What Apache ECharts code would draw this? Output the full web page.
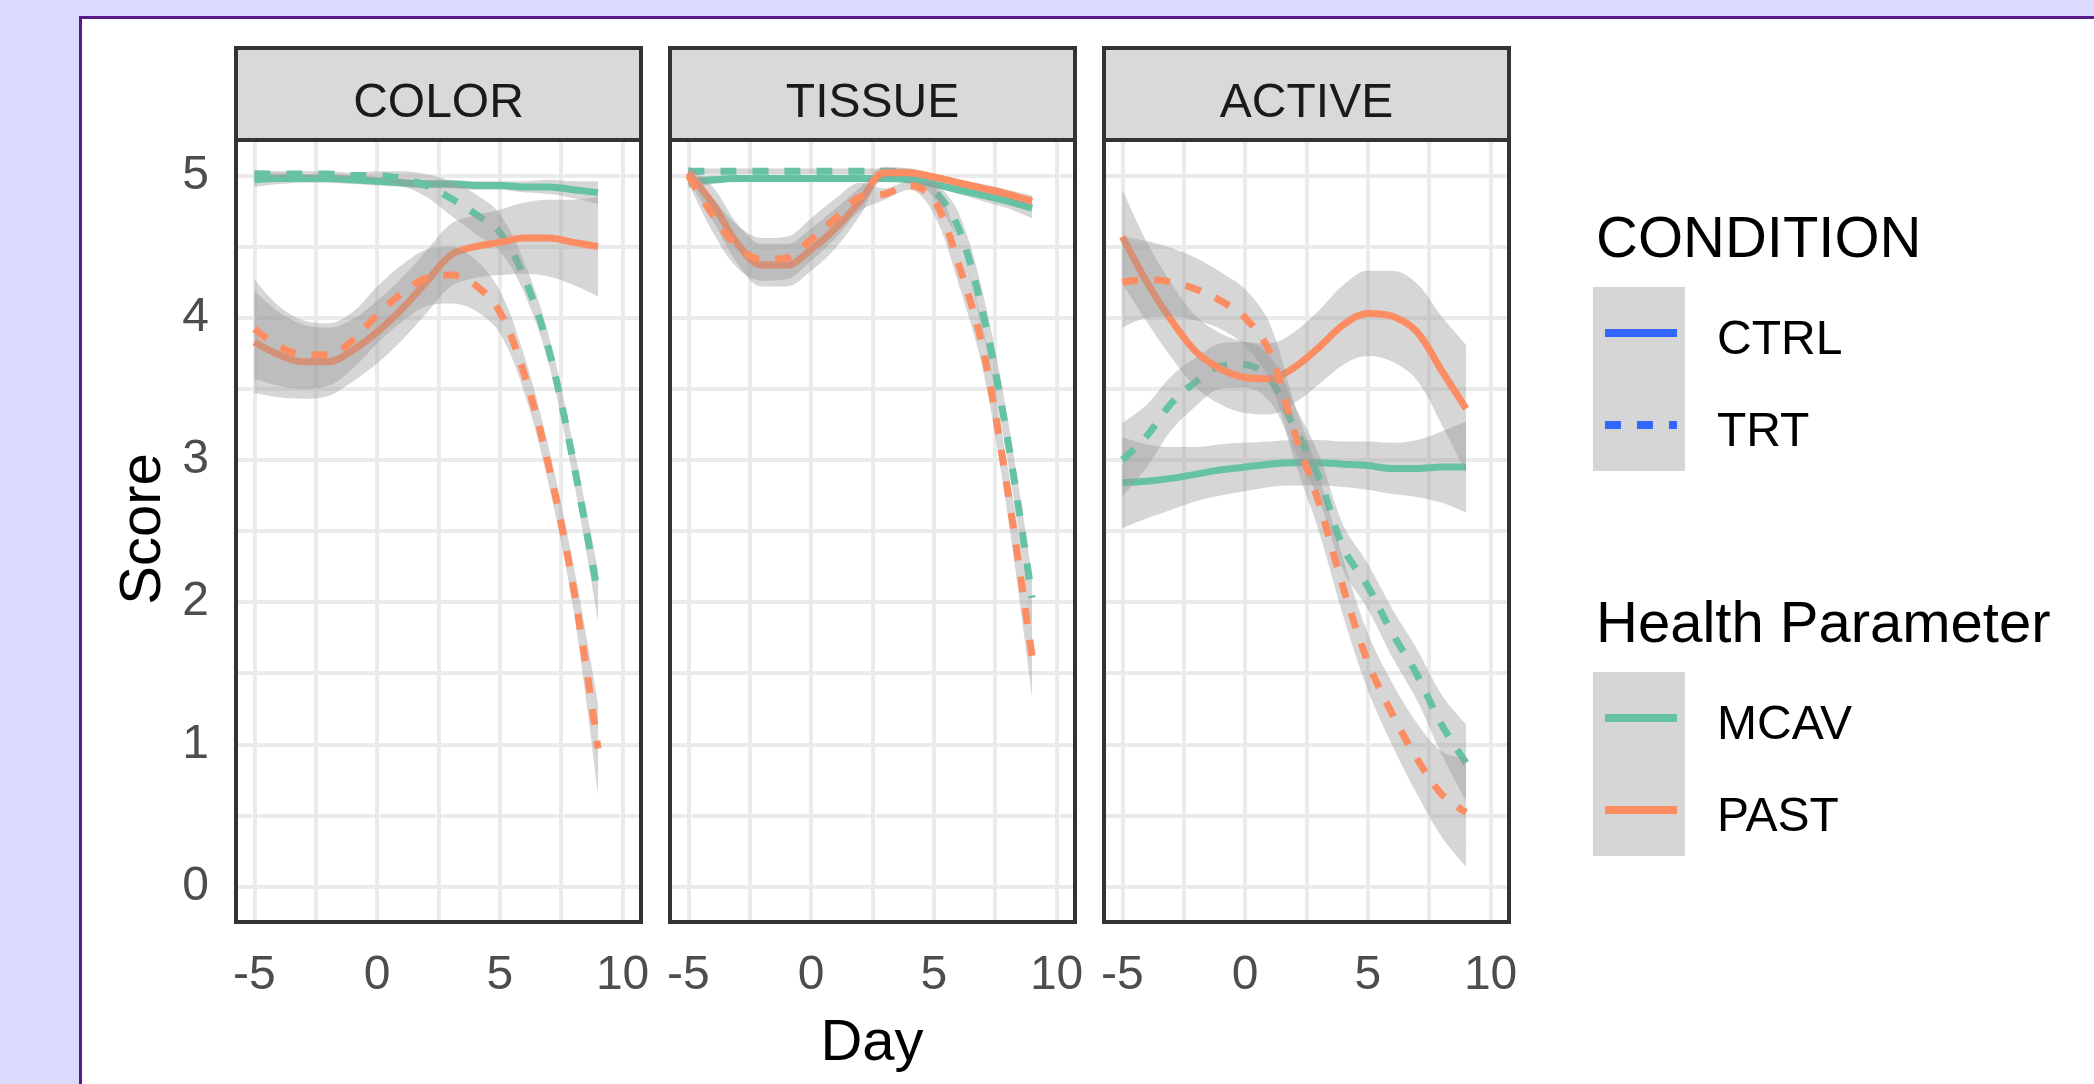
<!DOCTYPE html>
<html>
<head>
<meta charset="utf-8">
<script src="https://cdn.jsdelivr.net/npm/echarts@6/dist/echarts.min.js"></script>
<style>
    html, body { margin: 0; padding: 0; background: #dadafc; }
    #frame { position: absolute; left: 79px; top: 16px; right: 0; bottom: 0; background: #fff;
             border-left: 3px solid #58198a; border-top: 3px solid #58198a; }
    #chart { position: absolute; left: 0; top: 0; width: 2094px; height: 1084px; }
</style>
</head>
<body>
<div id="frame"></div>
<div id="chart"></div>
<script>
// x 值（天）
var days = [-5, -4, -3, -2, -1, 0, 1, 2, 3, 4, 5, 6, 7, 8, 9];
var facetNames = ['COLOR', 'TISSUE', 'ACTIVE'];
var xTickValues = [-5, 0, 5, 10];
var xMinorValues = [-2.5, 2.5, 7.5];
var yTickValues = [0, 1, 2, 3, 4, 5];
var yMinorValues = [0.5, 1.5, 2.5, 3.5, 4.5];
var conditionNames = ['CTRL', 'TRT'];
var speciesNames = ['MCAV', 'PAST'];

// COLOR  (均值 + 置信带半宽)
var colorMcavCtrl = [4.97, 4.98, 4.98, 4.98, 4.97, 4.96, 4.95, 4.94, 4.94, 4.93, 4.93, 4.92, 4.92, 4.90, 4.88];
var colorMcavCtrlCi = [0.05, 0.04, 0.03, 0.03, 0.03, 0.03, 0.03, 0.03, 0.03, 0.03, 0.03, 0.04, 0.05, 0.06, 0.08];
var colorMcavTrt = [5.01, 5.01, 5.01, 5.01, 5.00, 5.00, 4.98, 4.93, 4.84, 4.73, 4.60, 4.28, 3.77, 2.98, 2.05];
var colorMcavTrtCi = [0.03, 0.02, 0.02, 0.02, 0.02, 0.03, 0.05, 0.08, 0.12, 0.14, 0.13, 0.11, 0.10, 0.12, 0.18];
var colorPastCtrl = [3.83, 3.74, 3.69, 3.69, 3.77, 3.90, 4.06, 4.25, 4.44, 4.50, 4.53, 4.56, 4.56, 4.53, 4.50];
var colorPastCtrlCi = [0.36, 0.30, 0.26, 0.24, 0.22, 0.22, 0.22, 0.22, 0.22, 0.22, 0.23, 0.25, 0.27, 0.30, 0.35];
var colorPastTrt = [3.92, 3.80, 3.74, 3.74, 3.84, 4.02, 4.17, 4.28, 4.30, 4.23, 4.04, 3.60, 2.95, 2.10, 0.97];
var colorPastTrtCi = [0.35, 0.28, 0.24, 0.22, 0.20, 0.20, 0.20, 0.20, 0.20, 0.18, 0.15, 0.13, 0.13, 0.16, 0.32];

// TISSUE
var tissueMcavCtrl = [4.95, 4.97, 4.98, 4.98, 4.98, 4.98, 4.98, 4.98, 4.98, 4.97, 4.94, 4.90, 4.86, 4.82, 4.77];
var tissueMcavCtrlCi = [0.04, 0.03, 0.02, 0.02, 0.02, 0.02, 0.02, 0.02, 0.02, 0.02, 0.02, 0.03, 0.04, 0.05, 0.07];
var tissueMcavTrt = [5.03, 5.03, 5.03, 5.03, 5.03, 5.03, 5.03, 5.03, 5.03, 5.02, 4.90, 4.63, 4.03, 3.15, 2.03];
var tissueMcavTrtCi = [0.02, 0.02, 0.02, 0.02, 0.02, 0.02, 0.02, 0.02, 0.02, 0.03, 0.06, 0.11, 0.14, 0.15, 0.16];
var tissuePastCtrl = [5.02, 4.80, 4.52, 4.37, 4.37, 4.48, 4.63, 4.82, 5.02, 5.02, 4.99, 4.95, 4.91, 4.87, 4.82];
var tissuePastCtrlCi = [0.05, 0.12, 0.14, 0.15, 0.15, 0.15, 0.14, 0.10, 0.04, 0.03, 0.02, 0.02, 0.03, 0.03, 0.04];
var tissuePastTrt = [5.00, 4.72, 4.50, 4.41, 4.42, 4.55, 4.70, 4.85, 4.87, 4.93, 4.83, 4.38, 3.78, 2.79, 1.62];
var tissuePastTrtCi = [0.05, 0.12, 0.15, 0.15, 0.15, 0.15, 0.14, 0.10, 0.04, 0.03, 0.10, 0.14, 0.15, 0.17, 0.28];

// ACTIVE
var activeMcavCtrl = [2.84, 2.85, 2.87, 2.90, 2.93, 2.95, 2.97, 2.98, 2.98, 2.97, 2.96, 2.94, 2.94, 2.95, 2.95];
var activeMcavCtrlCi = [0.32, 0.26, 0.22, 0.19, 0.18, 0.17, 0.16, 0.16, 0.16, 0.16, 0.17, 0.18, 0.20, 0.25, 0.32];
var activeMcavTrt = [3.00, 3.17, 3.40, 3.55, 3.66, 3.67, 3.57, 3.23, 2.88, 2.38, 2.11, 1.78, 1.49, 1.14, 0.87];
var activeMcavTrtCi = [0.26, 0.22, 0.19, 0.17, 0.16, 0.16, 0.16, 0.16, 0.16, 0.16, 0.16, 0.17, 0.18, 0.21, 0.27];
var activePastCtrl = [4.57, 4.25, 3.98, 3.76, 3.64, 3.58, 3.57, 3.65, 3.79, 3.95, 4.03, 4.01, 3.90, 3.63, 3.36];
var activePastCtrlCi = [0.33, 0.28, 0.26, 0.25, 0.25, 0.25, 0.25, 0.25, 0.26, 0.28, 0.30, 0.32, 0.34, 0.38, 0.45];
var activePastTrt = [4.25, 4.27, 4.25, 4.20, 4.12, 4.00, 3.76, 3.20, 2.70, 2.10, 1.58, 1.21, 0.90, 0.65, 0.52];
var activePastTrtCi = [0.32, 0.27, 0.24, 0.22, 0.20, 0.20, 0.20, 0.20, 0.20, 0.20, 0.20, 0.22, 0.25, 0.30, 0.38];

var chart = echarts.init(document.getElementById('chart'));

var FONT = '"Liberation Sans", Arial, sans-serif';
var speciesColors = ['#66c2a5', '#fc8d62'];
var ribbonColor = 'rgba(153,153,153,0.4)';
var panelLefts = [236, 670, 1104];
var panelTop = 140, panelW = 405, panelH = 782;

// 每个分面：MCAV CTRL, MCAV TRT, PAST CTRL, PAST TRT（ggplot 的分组顺序）
var facetCurves = [
    [[colorMcavCtrl, colorMcavCtrlCi], [colorMcavTrt, colorMcavTrtCi], [colorPastCtrl, colorPastCtrlCi], [colorPastTrt, colorPastTrtCi]],
    [[tissueMcavCtrl, tissueMcavCtrlCi], [tissueMcavTrt, tissueMcavTrtCi], [tissuePastCtrl, tissuePastCtrlCi], [tissuePastTrt, tissuePastTrtCi]],
    [[activeMcavCtrl, activeMcavCtrlCi], [activeMcavTrt, activeMcavTrtCi], [activePastCtrl, activePastCtrlCi], [activePastTrt, activePastTrtCi]]
];

var grids = [], xAxes = [], yAxes = [], series = [], graphics = [];
var SMOOTH = 0.35;
// 数据写成 [score, day]，让堆叠落在 y 维
var ENCODE = { x: 1, y: 0 };

facetNames.forEach(function (name, f) {
    grids.push({ left: panelLefts[f], top: panelTop, width: panelW, height: panelH, show: false });

    xAxes.push({
        gridIndex: f, type: 'value', min: -5.75, max: 10.75,
        axisLine: { show: false }, splitLine: { show: false },
        axisTick: { show: true, customValues: xTickValues, length: 12, lineStyle: { color: '#333', width: 4 } },
        axisLabel: { customValues: xTickValues, margin: 30, fontSize: 48, color: '#4d4d4d', fontFamily: FONT }
    });
    yAxes.push({
        gridIndex: f, type: 'value', min: -0.25, max: 5.25,
        axisLine: { show: false }, splitLine: { show: false },
        axisTick: { show: f === 0, customValues: yTickValues, length: 14, lineStyle: { color: '#333', width: 4 } },
        axisLabel: { show: f === 0, customValues: yTickValues, margin: 27, fontSize: 48, color: '#4d4d4d',
                     fontFamily: FONT, padding: [14, 0, 0, 0] }
    });

    // 网格线
    var gridLines = [];
    xTickValues.concat(xMinorValues).forEach(function (v) { gridLines.push({ xAxis: v }); });
    yTickValues.concat(yMinorValues).forEach(function (v) { gridLines.push({ yAxis: v }); });
    series.push({
        type: 'line', xAxisIndex: f, yAxisIndex: f, data: [], silent: true, z: 1,
        markLine: {
            silent: true, symbol: ['none', 'none'], label: { show: false }, animation: false,
            emphasis: { disabled: true },
            lineStyle: { color: '#ebebeb', width: 4, type: 'solid' },
            data: gridLines
        }
    });

    facetCurves[f].forEach(function (curve, g) {
        var mean = curve[0], ci = curve[1];
        var sp = g < 2 ? 0 : 1, cond = g % 2;
        var stackId = 'band' + f + '_' + g;
        series.push({
            type: 'line', xAxisIndex: f, yAxisIndex: f, stack: stackId, symbol: 'none', smooth: SMOOTH,
            silent: true, lineStyle: { opacity: 0 }, z: 10 + g * 3, encode: ENCODE,
            data: days.map(function (d, i) { return [mean[i] - ci[i], d]; })
        });
        series.push({
            type: 'line', xAxisIndex: f, yAxisIndex: f, stack: stackId, symbol: 'none', smooth: SMOOTH,
            silent: true, lineStyle: { opacity: 0 }, areaStyle: { color: ribbonColor, opacity: 1 }, z: 11 + g * 3,
            encode: ENCODE,
            data: days.map(function (d, i) { return [2 * ci[i], d]; })
        });
        series.push({
            name: speciesNames[sp] + ' ' + conditionNames[cond],
            type: 'line', xAxisIndex: f, yAxisIndex: f, symbol: 'none', smooth: SMOOTH, silent: true,
            lineStyle: { color: speciesColors[sp], width: 7, type: cond === 1 ? [16, 16] : 'solid', cap: 'butt' },
            z: 12 + g * 3, encode: ENCODE,
            data: days.map(function (d, i) { return [mean[i], d]; })
        });
    });

    // 分面标题条
    graphics.push({
        type: 'rect', z: 100,
        shape: { x: panelLefts[f], y: 48, width: panelW, height: 92 },
        style: { fill: '#d9d9d9', stroke: '#333', lineWidth: 4 }
    });
    graphics.push({
        type: 'text', z: 101, x: panelLefts[f] + panelW / 2, y: 104,
        style: { text: name, font: '48px ' + FONT, fill: '#1a1a1a', align: 'center', verticalAlign: 'middle' }
    });
    // 面板边框
    graphics.push({
        type: 'rect', z: 100,
        shape: { x: panelLefts[f], y: panelTop, width: panelW, height: panelH },
        style: { fill: 'none', stroke: '#333', lineWidth: 4 }
    });
});

// 坐标轴标题
graphics.push({
    type: 'text', z: 100, x: 144, y: 529, rotation: Math.PI / 2,
    style: { text: 'Score', font: '58px ' + FONT, fill: '#000', align: 'center', verticalAlign: 'middle' }
});
graphics.push({
    type: 'text', z: 100, x: 872, y: 1044,
    style: { text: 'Day', font: '58px ' + FONT, fill: '#000', align: 'center', verticalAlign: 'middle' }
});

// 图例
function legendBlock(title, titleY, keyTop, labels, colors, dashes) {
    graphics.push({
        type: 'text', z: 100, x: 1596, y: titleY,
        style: { text: title, font: '58px ' + FONT, fill: '#000', align: 'left', verticalAlign: 'middle' }
    });
    graphics.push({
        type: 'rect', z: 100, shape: { x: 1593, y: keyTop, width: 92, height: 184 },
        style: { fill: '#d6d6d6' }
    });
    labels.forEach(function (lab, i) {
        var cy = keyTop + 46 + i * 92;
        graphics.push({
            type: 'line', z: 101, shape: { x1: 1605, y1: cy, x2: 1677, y2: cy },
            style: { stroke: colors[i], lineWidth: 8, lineDash: dashes[i], lineCap: 'butt' }
        });
        graphics.push({
            type: 'text', z: 101, x: 1717, y: cy + 8,
            style: { text: lab, font: '48px ' + FONT, fill: '#000', align: 'left', verticalAlign: 'middle' }
        });
    });
}
legendBlock('CONDITION', 241, 287, conditionNames, ['#3366ff', '#3366ff'], [null, [16, 16]]);
legendBlock('Health Parameter', 626, 672, speciesNames, speciesColors, [null, null]);

chart.setOption({
    backgroundColor: 'transparent',
    animation: false,
    grid: grids,
    xAxis: xAxes,
    yAxis: yAxes,
    series: series,
    graphic: { elements: graphics }
});
</script>
</body>
</html>
